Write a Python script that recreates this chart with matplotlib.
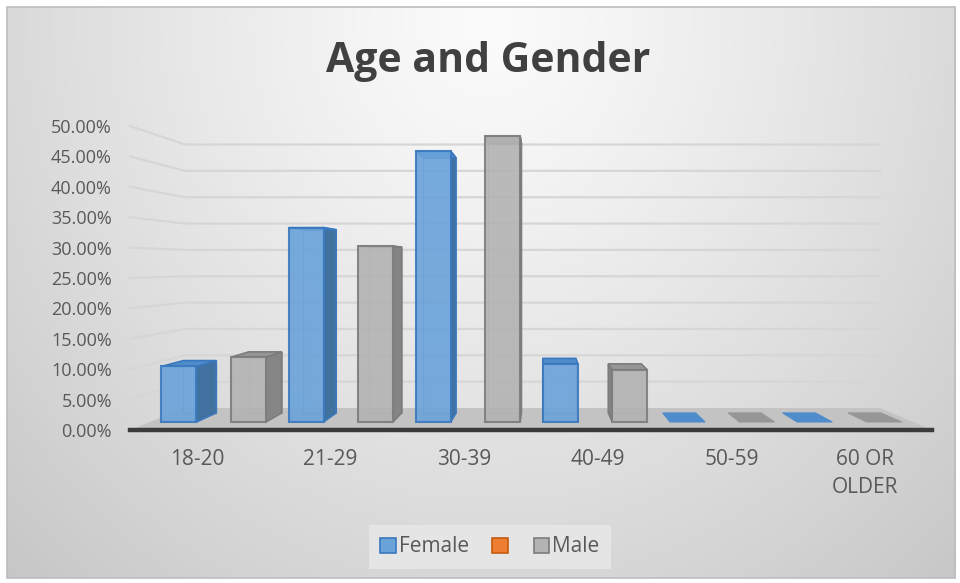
import numpy as np
import matplotlib
matplotlib.use("Agg")
import matplotlib.pyplot as plt
from matplotlib.patches import Polygon, Patch, Rectangle

plt.rcParams["font.family"] = ["Open Sans", "DejaVu Sans"]

# data (percent of each gender)
categories = ["18-20", "21-29", "30-39", "40-49", "50-59", "60 OR\nOLDER"]
female = [9.6, 33.6, 46.8, 10.0, 0.0, 0.0]
other = [None, None, None, None, None, None]  # orange series, empty
male = [11.2, 30.4, 49.4, 9.0, 0.0, 0.0]
y_ticks = [0, 5, 10, 15, 20, 25, 30, 35, 40, 45, 50]
y_tick_labels = ["%.2f%%" % t for t in y_ticks]

# layout of the fake 3d frame, in pixels of the 960x583 picture
W, H = 960, 583
X0_PX, X1_PX = 130, 932
Y0_PX, Y50_PX = 430, 126
VP_PX = (542, 265)
SHRINK = 0.1333        # how much the back wall shrinks toward the vanishing point
BAR_D = (0.364, 0.776)  # depth of the bars (0 = front edge, 1 = back wall)
BAR_W = 0.275
OFFSETS = [-0.273, 0.0, 0.273]

step = (X1_PX - X0_PX) / len(categories)


def px_to_data(px, py):
    return (px - X0_PX) / step - 0.5, (Y0_PX - py) * 50.0 / (Y0_PX - Y50_PX)


VX, VY = px_to_data(*VP_PX)


def project(x, y, d):
    s = 1 - SHRINK * d
    return (VX + (x - VX) * s, VY + (y - VY) * s)


def draw_box(ax, xc, v, face, side, top, edge, z):
    x0, x1 = xc - BAR_W / 2, xc + BAR_W / 2
    d1, d2 = BAR_D

    def f(x, y):
        return project(x, y, d1)

    def b(x, y):
        return project(x, y, d2)

    if v == 0:
        ax.add_patch(Polygon([f(x0, 0), f(x1, 0), b(x1, 0), b(x0, 0)],
                             closed=True, facecolor=top, edgecolor=top, lw=0.8, zorder=z))
        return
    # back edges seen through the front face
    ax.add_patch(Polygon([b(x0, 0), b(x1, 0), b(x1, v), b(x0, v)], closed=True,
                         facecolor="none", edgecolor=edge, lw=0.8, alpha=0.5, zorder=z))
    if x1 < VX:
        sf = [f(x1, 0), b(x1, 0), b(x1, v), f(x1, v)]
    else:
        sf = [f(x0, 0), b(x0, 0), b(x0, v), f(x0, v)]
    ax.add_patch(Polygon(sf, closed=True, facecolor=side, edgecolor=edge, lw=1.2, zorder=z + 0.1))
    ax.add_patch(Polygon([f(x0, v), f(x1, v), b(x1, v), b(x0, v)], closed=True,
                         facecolor=top, edgecolor=edge, lw=1.2, zorder=z + 0.2))
    ax.add_patch(Polygon([f(x0, 0), f(x1, 0), f(x1, v), f(x0, v)], closed=True,
                         facecolor=face, edgecolor=edge, lw=1.5, alpha=0.9, zorder=z + 0.3))


fig = plt.figure(figsize=(W / 100, H / 100), dpi=100)
fig.patch.set_facecolor("white")

# background with a soft radial gradient
bg = fig.add_axes([0, 0, 1, 1], zorder=-1)
bg.set_xlim(0, W)
bg.set_ylim(H, 0)
bg.axis("off")
gx, gy = np.meshgrid(np.arange(7, 956), np.arange(7, 578))
r = np.sqrt(((gx - 487) / 560.0) ** 2 + ((gy - 20) / 620.0) ** 2)
shade = np.clip(0.985 - 0.16 * r ** 1.2, 0, 1)
bg.imshow(np.dstack([shade, shade, shade]), extent=(7, 956, 578, 7), aspect="auto")
bg.add_patch(Rectangle((7, 7), 948, 571, facecolor="none", edgecolor="#bdbdbd", lw=1.2))

ax = fig.add_axes([0, 0, 1, 1])
left, top_ = px_to_data(0, 0)
right, bottom = px_to_data(W, H)
ax.set_xlim(left, right)
ax.set_ylim(bottom, top_)
ax.patch.set_visible(False)

n = len(categories)
xl, xr = -0.5, n - 0.5

# gridlines: side wall then back wall
for t in y_ticks[1:]:
    pts = [(xl, t), project(xl, t, 1), project(xr, t, 1)]
    ax.plot([p[0] for p in pts], [p[1] for p in pts], color="#d6d6d6", lw=1.6, zorder=0.5)

# floor
ax.add_patch(Polygon([(xl, 0), (xr, 0), project(xr, 0, 1), project(xl, 0, 1)], closed=True,
                     facecolor="#c3c3c3", edgecolor="none", zorder=1))

styles = [
    ("#6aa2da", "#41729f", "#4f8ccb", "#3a78be"),   # female
    ("#ed7d31", "#b85f22", "#d96d28", "#c55a11"),   # orange (empty)
    ("#b3b3b3", "#858585", "#969696", "#7c7c7c"),   # male
]
series = [female, other, male]
for si, values in enumerate(series):
    face, side, top, edge = styles[si]
    for i, v in enumerate(values):
        if v is None:
            continue
        draw_box(ax, i + OFFSETS[si], v, face, side, top, edge, 3 + si)

for s in ["top", "right", "left"]:
    ax.spines[s].set_visible(False)
ax.spines["left"].set_position(("data", xl))
ax.spines["bottom"].set_position(("data", 0))
ax.spines["bottom"].set_bounds(xl, xr)
ax.spines["bottom"].set_linewidth(3.2)
ax.spines["bottom"].set_color("#3b3b3b")
ax.spines["bottom"].set_zorder(2)

ax.set_xticks(range(n), categories)
ax.set_yticks(y_ticks, y_tick_labels)
ax.tick_params(axis="x", length=0, pad=14, labelsize=15, labelcolor="#595959")
ax.tick_params(axis="y", length=0, pad=13, labelsize=13, labelcolor="#595959")
for lab in ax.get_xticklabels():
    lab.set_linespacing(1.4)

fig.text(488 / W, 1 - 62 / H, "Age and Gender", ha="center", va="center",
         fontsize=29.5, fontweight="bold", color="#404040")

handles = [Patch(facecolor=styles[i][0], edgecolor=styles[i][3], lw=1.2) for i in range(3)]
leg = fig.legend(handles, ["Female", "", "Male"], loc="center",
                 bbox_to_anchor=(490 / W, 1 - 547 / H), ncol=3, fontsize=15,
                 frameon=True, facecolor="#e5e5e5", edgecolor="none", fancybox=False,
                 handlelength=0.75, handleheight=0.75, handletextpad=0.15,
                 columnspacing=1.1, borderpad=0.55, labelcolor="#595959")
leg.get_frame().set_alpha(1)

fig.savefig("out.png", dpi=100)
